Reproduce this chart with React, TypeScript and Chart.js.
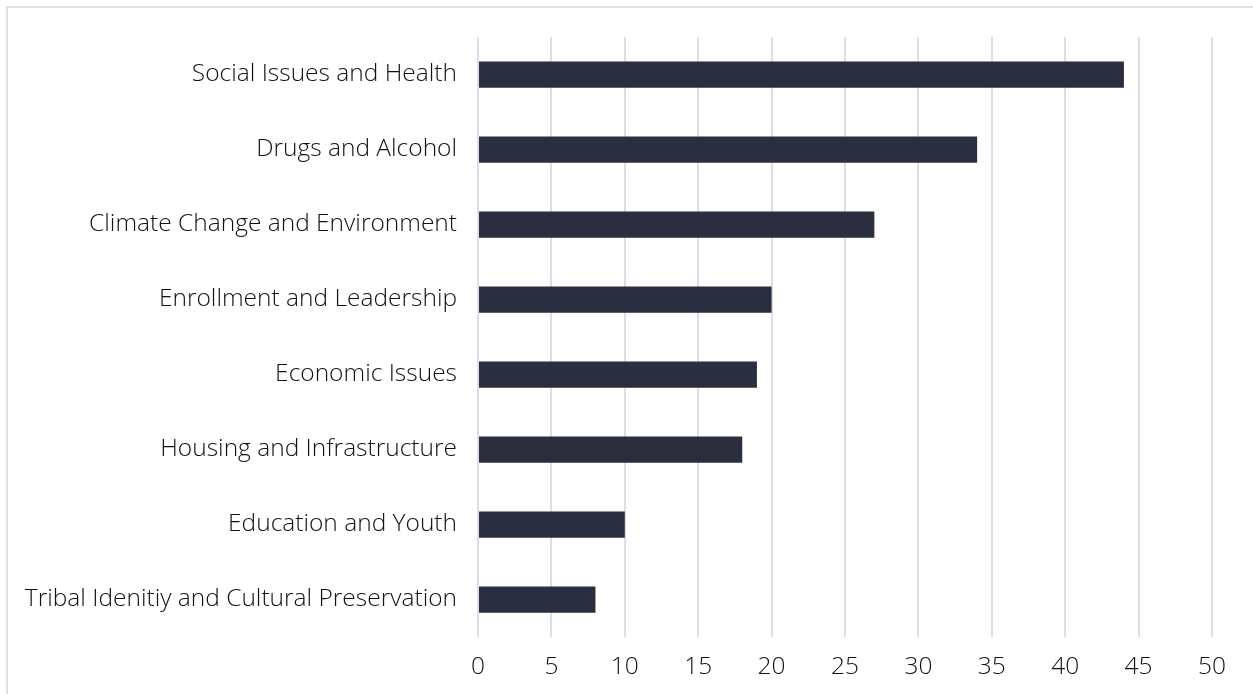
import React, { useEffect, useRef } from "react";
import { Chart, registerables } from "chart.js";

Chart.register(...registerables);

const categories = [
  "Social Issues and Health",
  "Drugs and Alcohol",
  "Climate Change and Environment",
  "Enrollment and Leadership",
  "Economic Issues",
  "Housing and Infrastructure",
  "Education and Youth",
  "Tribal Idenitiy and Cultural Preservation",
];
const values = [44, 34, 27, 20, 19, 18, 10, 8];
const xMin = 0;
const xMax = 50;
const xStep = 5;

export default function App() {
  const ref = useRef<HTMLCanvasElement>(null);
  useEffect(() => {
    const ctx = ref.current!;
    const font = { family: "'Open Sans', 'Noto Sans', sans-serif", size: 24.5, weight: "300" as any };
    const chart = new Chart(ctx, {
      type: "bar",
      data: {
        labels: categories,
        datasets: [
          {
            data: values,
            backgroundColor: "#2b2e3f",
            barPercentage: 0.35,
            categoryPercentage: 1,
          },
        ],
      },
      options: {
        indexAxis: "y",
        animation: false,
        responsive: false,
        maintainAspectRatio: false,
        layout: { padding: { top: 37, right: 41, left: 0, bottom: 7 } },
        plugins: { legend: { display: false }, tooltip: { enabled: false } },
        scales: {
          x: {
            min: xMin,
            max: xMax,
            ticks: { stepSize: xStep, color: "#111111", font, padding: 15 },
            grid: { color: "#dcdfe9", lineWidth: 2, drawTicks: false },
            border: { display: false },
            afterFit: (s: any) => {
              s.height = 50;
            },
          },
          y: {
            ticks: { color: "#111111", font, padding: 21 },
            grid: { display: false, drawTicks: false },
            border: { display: false },
            afterFit: (s: any) => {
              s.width = 478;
            },
          },
        },
      },
    });
    return () => chart.destroy();
  }, []);
  return (
    <div style={{ position: "fixed", left: 0, top: 0, width: 1253, height: 694, background: "#fff", overflow: "hidden" }}>
      <div
        style={{
          position: "absolute",
          left: 6,
          top: 6,
          width: 1260,
          height: 700,
          border: "2px solid #dde0ea",
        }}
      />
      <canvas ref={ref} width={1253} height={694} style={{ position: "absolute", left: 0, top: 0 }} />
    </div>
  );
}
